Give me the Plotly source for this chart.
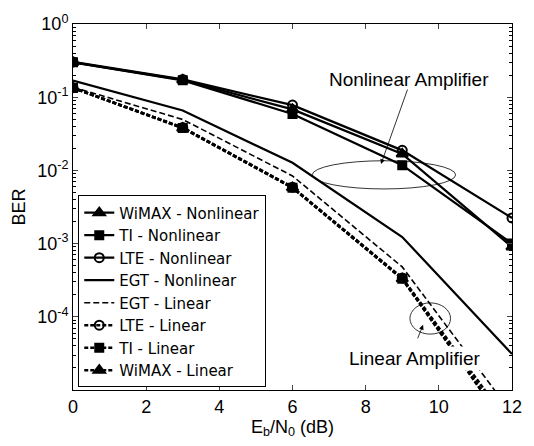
import plotly.graph_objects as go

# ---- data ----
ebn0 = [0, 3, 6, 9, 12]

wimax_nl = [0.300, 0.172, 0.068, 0.0168, 0.00090]
ti_nl    = [0.300, 0.170, 0.059, 0.0118, 0.00100]
lte_nl   = [0.303, 0.175, 0.078, 0.0188, 0.00224]
egt_nl   = [0.169, 0.0658, 0.0127, 0.00123, 3.1e-5]
egt_l    = [0.137, 0.0496, 0.0084, 4.8e-4, 4.8e-6]
lte_l    = [0.135, 0.0385, 0.0059, 3.4e-4, 3.1e-6]
ti_l     = [0.134, 0.0380, 0.0058, 3.3e-4, 2.6e-6]
wimax_l  = [0.134, 0.0378, 0.0058, 3.3e-4, 2.5e-6]

x_ticks = [0, 2, 4, 6, 8, 10, 12]
y_major = [1, 1e-1, 1e-2, 1e-3, 1e-4]
y_major_text = ["10<sup>0</sup>", "10<sup>-1</sup>", "10<sup>-2</sup>",
                "10<sup>-3</sup>", "10<sup>-4</sup>"]
y_minor = [m * 10.0 ** e for e in range(-5, 0) for m in range(2, 10)]

FONT = "Liberation Sans, Arial, Helvetica, sans-serif"

fig = go.Figure()

def add(name, y, dash, width, symbol=None, msize=9):
    mode = "lines+markers" if symbol else "lines"
    marker = None
    if symbol:
        marker = dict(symbol=symbol, size=msize, color="black",
                      line=dict(color="black", width=2))
    fig.add_trace(go.Scatter(
        x=ebn0, y=y, name=name, mode=mode,
        line=dict(color="black", width=width, dash=dash),
        marker=marker))

add("WiMAX - Nonlinear", wimax_nl, "solid", 2.3, "triangle-up", 10)
add("TI - Nonlinear", ti_nl, "solid", 2.3, "square", 8)
add("LTE - Nonlinear", lte_nl, "solid", 2.3, "circle-open", 9)
add("EGT - Nonlinear", egt_nl, "solid", 2.2)
add("EGT - Linear", egt_l, "6px,3px", 1.6)
add("LTE - Linear", lte_l, "4px,2px", 2.6, "circle-open", 9)
add("TI - Linear", ti_l, "4px,2px", 2.6, "square", 8)
add("WiMAX - Linear", wimax_l, "4px,2px", 2.6, "triangle-up", 10)

# ellipses
fig.add_shape(type="circle", xref="x", yref="y",
              x0=6.54, x1=10.46, y0=0.00558, y1=0.01355,
              line=dict(color="black", width=0.8))
fig.add_shape(type="circle", xref="x", yref="y",
              x0=9.21, x1=10.32, y0=5.8e-5, y1=1.55e-4,
              line=dict(color="black", width=0.8))

# labels + arrows (annotation y on log axis uses log10)
fig.add_annotation(x=9.18, y=-0.76, xref="x", yref="y",
                   text="Nonlinear Amplifier", showarrow=False,
                   font=dict(size=19, color="black", family=FONT))
fig.add_annotation(x=8.42, y=-1.913, xref="x", yref="y", text="",
                   showarrow=True, arrowhead=2, arrowsize=1.2,
                   arrowwidth=0.8, arrowcolor="black", ax=27, ay=-76)
fig.add_annotation(x=9.35, y=-4.566, xref="x", yref="y",
                   text="Linear Amplifier", showarrow=False,
                   bgcolor="white", borderpad=1,
                   font=dict(size=19, color="black", family=FONT))
fig.add_annotation(x=9.57, y=-4.11, xref="x", yref="y", text="",
                   showarrow=True, arrowhead=2, arrowsize=1.2,
                   arrowwidth=0.8, arrowcolor="black", ax=-6, ay=15)

fig.update_layout(
    width=534, height=446,
    margin=dict(l=73, r=14, t=23, b=56),
    paper_bgcolor="white", plot_bgcolor="white",
    font=dict(family=FONT, size=18, color="black"),
    showlegend=True,
    legend=dict(x=0.012, y=0.007, xanchor="left", yanchor="bottom",
                bgcolor="white", bordercolor="black", borderwidth=1,
                font=dict(size=15, family="DejaVu Sans, " + FONT),
                tracegroupgap=0, itemwidth=30),
)
fig.update_xaxes(
    range=[0, 12], tickvals=x_ticks, ticks="inside", ticklen=5,
    showline=True, linecolor="black", linewidth=1, mirror="ticks",
    showgrid=False, zeroline=False,
    title=dict(text="E<sub>b</sub>/N<sub>0</sub> (dB)", standoff=4,
               font=dict(size=18)),
    tickfont=dict(size=18),
)
fig.update_yaxes(
    type="log", range=[-5, 0], tickvals=y_major, ticktext=y_major_text,
    ticks="inside", ticklen=5,
    minor=dict(tickvals=y_minor, ticks="inside", ticklen=3,
               tickcolor="black", showgrid=False),
    showline=True, linecolor="black", linewidth=1, mirror="ticks",
    showgrid=False, zeroline=False,
    title=dict(text="BER", standoff=6, font=dict(size=18)),
    tickfont=dict(size=18),
)

fig.write_html("out.html")
